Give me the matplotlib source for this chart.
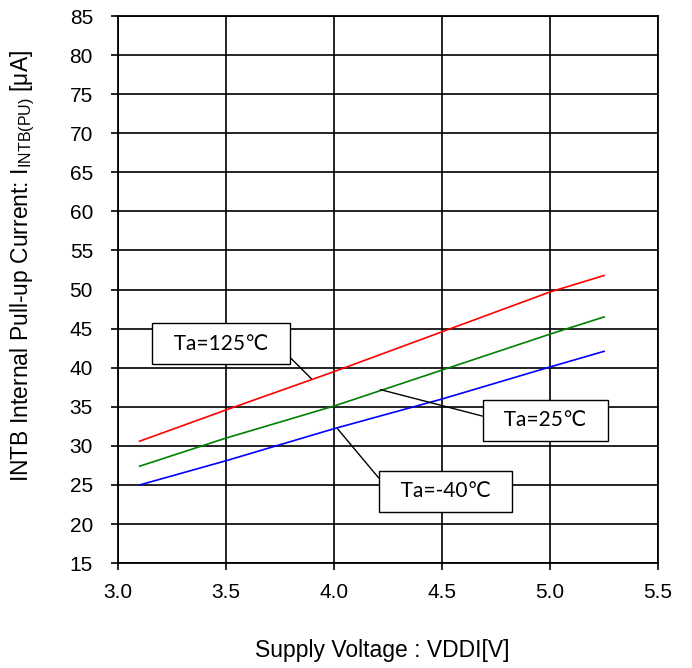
import matplotlib.pyplot as plt

# supply voltage [V]
vddi = [3.1, 3.5, 4.0, 4.5, 5.0, 5.25]
# pull-up current [uA] per temperature
i_125 = [30.6, 34.6, 39.5, 44.6, 49.7, 51.8]
i_25 = [27.4, 31.0, 35.1, 39.7, 44.3, 46.5]
i_m40 = [25.0, 28.1, 32.2, 36.0, 40.1, 42.1]

plt.rcParams['font.family'] = ['Liberation Sans', 'DejaVu Sans']
plt.rcParams['mathtext.default'] = 'regular'

fig = plt.figure(figsize=(6.92, 6.68), dpi=100)
ax = fig.add_axes([0.1705, 0.157, 0.7805, 0.819])

ax.plot(vddi, i_125, color='red', lw=1.2)
ax.plot(vddi, i_25, color='green', lw=1.2)
ax.plot(vddi, i_m40, color='blue', lw=1.2)

ax.set_xlim(3.0, 5.5)
ax.set_ylim(15, 85)
ax.set_xticks([3.0, 3.5, 4.0, 4.5, 5.0, 5.5])
ax.set_xticklabels(['3.0', '3.5', '4.0', '4.5', '5.0', '5.5'])
ax.set_yticks(range(15, 86, 5))
ax.grid(True, color='black', lw=1.2)
ax.set_axisbelow(True)
for s in ax.spines.values():
    s.set_linewidth(1.3)
ax.tick_params(direction='out', length=5, width=1.2, labelsize=15)
ax.tick_params(axis='x', pad=9)
ax.tick_params(axis='y', pad=13)

ax.set_xlabel('Supply Voltage : VDDI[V]', fontsize=16.5)
ax.xaxis.set_label_coords(0.489, -0.139)
ax.set_ylabel('INTB Internal Pull-up Current: I$_{INTB(PU)}$ [μA]', fontsize=16.5)
ax.yaxis.set_label_coords(-0.15, 0.543)

# labels with leader lines
box = dict(boxstyle='square,pad=0.5', fc='white', ec='black', lw=1)
lab_font = ['Lato', 'DejaVu Sans']
ax.annotate('  Ta=125℃  ', xy=(3.895, 38.6), xytext=(3.477, 43.07), ha='center', va='center',
            fontsize=15, family=lab_font, bbox=box,
            arrowprops=dict(arrowstyle='-', color='black', lw=1, relpos=(1, 0.36),
                            shrinkA=0, shrinkB=0))
ax.annotate('  Ta=25℃  ', xy=(4.215, 37.2), xytext=(4.979, 33.27), ha='center', va='center',
            fontsize=15, family=lab_font, bbox=box,
            arrowprops=dict(arrowstyle='-', color='black', lw=1, relpos=(0, 0.57),
                            shrinkA=0, shrinkB=0))
ax.annotate('  Ta=-40℃  ', xy=(4.016, 32.2), xytext=(4.516, 24.18), ha='center', va='center',
            fontsize=15, family=lab_font, bbox=box,
            arrowprops=dict(arrowstyle='-', color='black', lw=1, relpos=(0, 0.52),
                            shrinkA=0, shrinkB=0))

fig.savefig('out.png', dpi=100)
